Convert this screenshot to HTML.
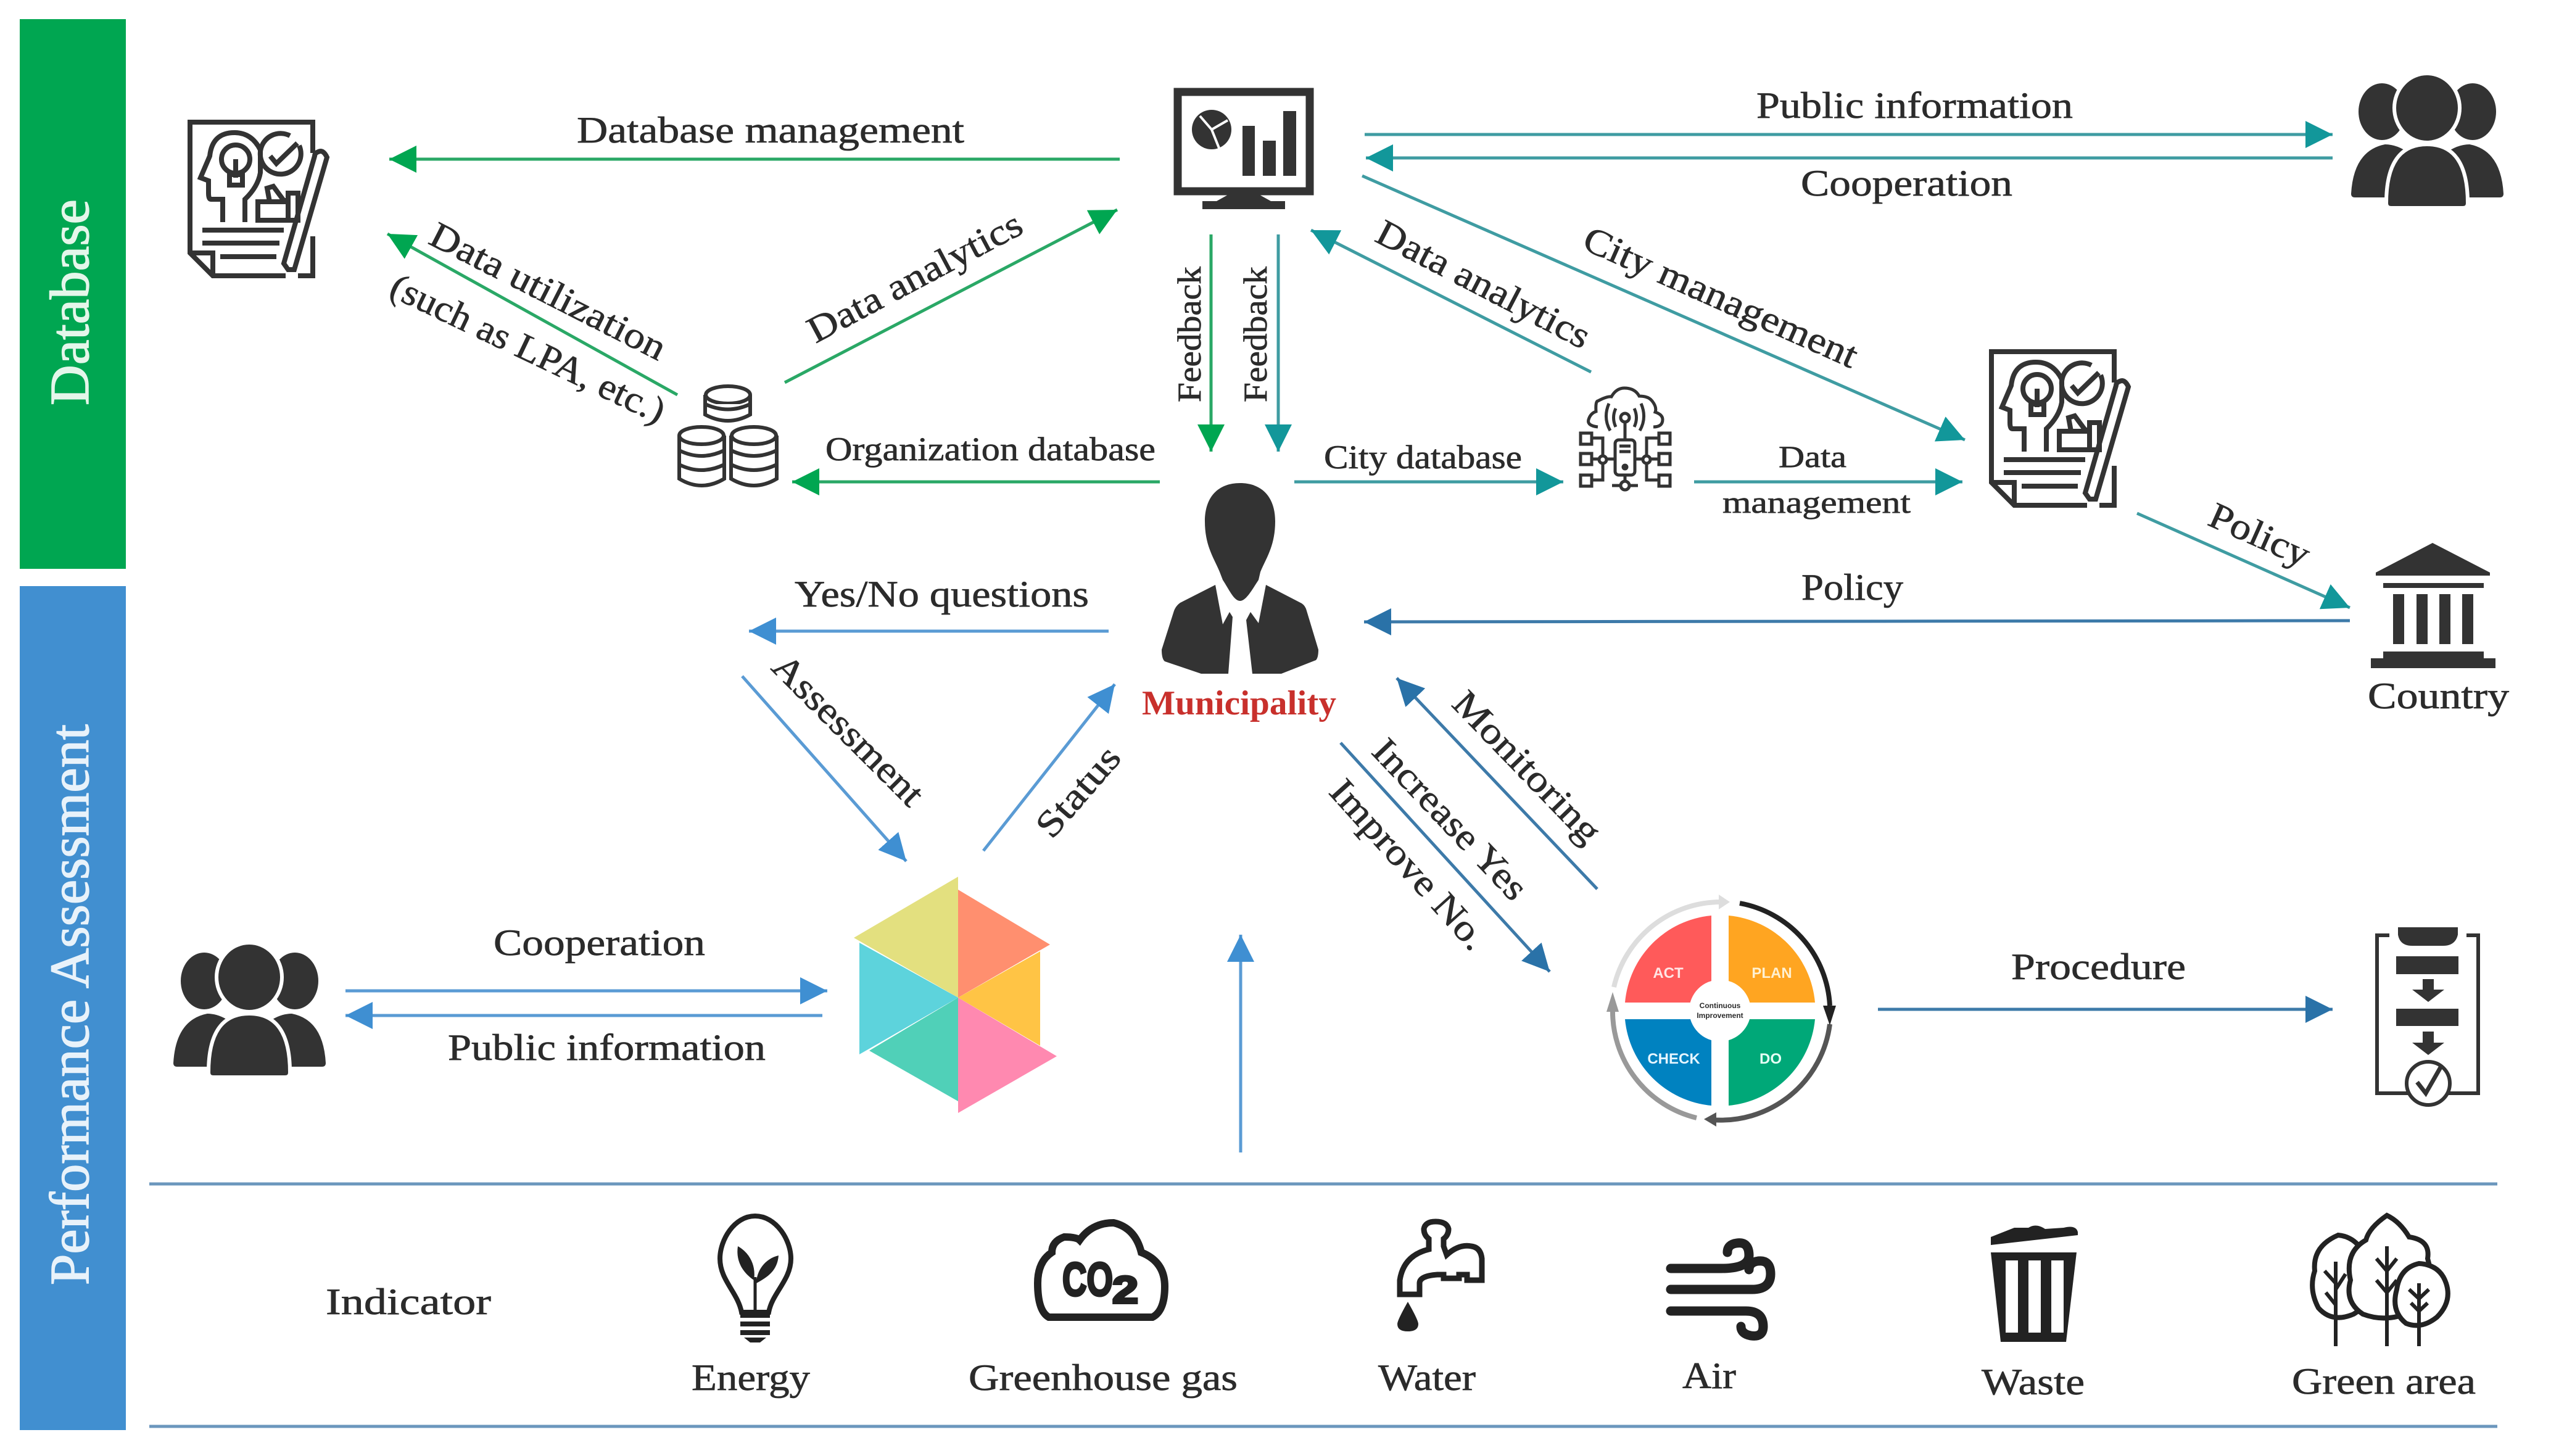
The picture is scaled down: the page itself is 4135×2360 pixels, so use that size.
<!DOCTYPE html>
<html><head><meta charset="utf-8"><style>
html,body{margin:0;padding:0;background:#fff}
svg{display:block}
text{font-family:"Liberation Serif",serif;fill:#2b2b2b;font-size:60px;stroke:#2b2b2b;stroke-width:.7px}
.s{font-size:54px}
.d{fill:#333}
</style></head><body>
<svg xmlns="http://www.w3.org/2000/svg" width="4135" height="2360" viewBox="0 0 4135 2360">
<defs>
<marker id="g" markerUnits="userSpaceOnUse" markerWidth="50" markerHeight="50" refX="44" refY="22" orient="auto"><path d="M0 0L44 22L0 44Z" fill="#00a651"/></marker>
<marker id="t" markerUnits="userSpaceOnUse" markerWidth="50" markerHeight="50" refX="44" refY="22" orient="auto"><path d="M0 0L44 22L0 44Z" fill="#12979a"/></marker>
<marker id="b" markerUnits="userSpaceOnUse" markerWidth="50" markerHeight="50" refX="44" refY="22" orient="auto"><path d="M0 0L44 22L0 44Z" fill="#3f8fd2"/></marker>
<marker id="k" markerUnits="userSpaceOnUse" markerWidth="50" markerHeight="50" refX="44" refY="22" orient="auto"><path d="M0 0L44 22L0 44Z" fill="#2a72a8"/></marker>
<g id="people">
<ellipse cx="50" cy="62" rx="38" ry="46" class="d"/><ellipse cx="197" cy="62" rx="38" ry="46" class="d"/>
<path d="M0 195Q4 125 55 115Q75 115 95 130V201H6Q0 201 0 195Z" class="d"/>
<path d="M247 195Q243 125 192 115Q172 115 152 130V201H241Q247 201 247 195Z" class="d"/>
<ellipse cx="123" cy="56" rx="53" ry="56" class="d" stroke="#fff" stroke-width="6"/>
<path d="M57 210Q57 115 123 115Q189 115 189 210Q189 218 181 218H65Q57 218 57 210Z" class="d" stroke="#fff" stroke-width="6"/>
</g>
<g id="doc" fill="none" stroke="#333" stroke-width="8">
<path d="M199 50V0H0V212L37 249H155M175 249H199V185"/>
<path d="M0 212H37V249"/>
<path d="M53 162V125H34Q30 125 30 115V95L17 90L32 55Q36 17 72 17Q100 17 114 45V82Q110 105 89 125V162"/>
<circle cx="74" cy="60" r="23"/><path d="M74 60V90"/><rect x="64" y="85" width="21" height="17"/>
<path d="M162 22A33 33 0 1 0 177 38"/><path d="M130 55L140 67L174 34"/>
<path d="M159 129H110V159H159M110 129H129L125 107L135 104L152 127H159"/>
<rect x="159" y="115" width="16" height="44"/>
<path d="M20 175H152M20 196H145M49 218H140"/>
<path d="M202 55L152 229L159 239H169L222 57Q216 44 208 48Q202 50 202 55Z"/>
</g>
</defs>
<rect width="4135" height="2360" fill="#fff"/>

<!-- side bars -->
<rect x="32" y="31" width="172" height="891" fill="#00a651"/>
<rect x="32" y="950" width="172" height="1368" fill="#418fd0"/>
<text transform="translate(143,657) rotate(-90)" textLength="334" lengthAdjust="spacingAndGlyphs" style="font-size:90px;fill:#e4f6ea;stroke:#e4f6ea;stroke-width:1.5px">Database</text>
<text transform="translate(143,2083) rotate(-90)" textLength="909" lengthAdjust="spacingAndGlyphs" style="font-size:90px;fill:#e8f2fa;stroke:#e8f2fa;stroke-width:1.5px">Performance Assessment</text>

<!-- connectors -->
<g fill="none" stroke-width="5">
<g stroke="#2aa866">
<line x1="1815" y1="258" x2="631" y2="258" marker-end="url(#g)"/>
<line x1="1098" y1="640" x2="628" y2="379" marker-end="url(#g)"/>
<line x1="1272" y1="620" x2="1811" y2="340" marker-end="url(#g)"/>
<line x1="1880" y1="781" x2="1284" y2="781" marker-end="url(#g)"/>
<line x1="1963" y1="380" x2="1963" y2="732" marker-end="url(#g)"/>
</g>
<g stroke="#3f9ca2">
<line x1="2072" y1="380" x2="2072" y2="732" marker-end="url(#t)"/>
<line x1="2212" y1="218" x2="3781" y2="218" marker-end="url(#t)"/>
<line x1="3781" y1="256" x2="2214" y2="256" marker-end="url(#t)"/>
<line x1="2208" y1="285" x2="3185" y2="713" marker-end="url(#t)"/>
<line x1="2579" y1="603" x2="2125" y2="373" marker-end="url(#t)"/>
<line x1="2098" y1="781" x2="2534" y2="781" marker-end="url(#t)"/>
<line x1="2746" y1="781" x2="3181" y2="781" marker-end="url(#t)"/>
<line x1="3464" y1="832" x2="3809" y2="985" marker-end="url(#t)"/>
</g>
<g stroke="#5a9bd4">
<line x1="1797" y1="1023" x2="1214" y2="1023" marker-end="url(#b)"/>
<line x1="1203" y1="1096" x2="1469" y2="1396" marker-end="url(#b)"/>
<line x1="1594" y1="1379" x2="1807" y2="1109" marker-end="url(#b)"/>
<line x1="560" y1="1606" x2="1341" y2="1606" marker-end="url(#b)"/>
<line x1="1333" y1="1646" x2="560" y2="1646" marker-end="url(#b)"/>
<line x1="2011" y1="1868" x2="2011" y2="1515" marker-end="url(#b)"/>
</g>
<g stroke="#3d7aa9">
<line x1="3809" y1="1006" x2="2211" y2="1008" marker-end="url(#k)"/>
<line x1="2589" y1="1441" x2="2264" y2="1099" marker-end="url(#k)"/>
<line x1="2173" y1="1204" x2="2512" y2="1575" marker-end="url(#k)"/>
<line x1="3044" y1="1636" x2="3781" y2="1636" marker-end="url(#k)"/>
</g>
<line x1="242" y1="1919" x2="4048" y2="1919" stroke="#6b97bd" stroke-width="5"/>
<line x1="242" y1="2312" x2="4048" y2="2312" stroke="#6b97bd" stroke-width="5"/>
</g>

<!-- labels -->
<text x="935" y="231" textLength="628" lengthAdjust="spacingAndGlyphs">Database management</text>
<text transform="translate(692,394) rotate(27)" textLength="421" lengthAdjust="spacingAndGlyphs">Data utilization</text>
<text transform="translate(628,478) rotate(25.5)" textLength="486" lengthAdjust="spacingAndGlyphs">(such as LPA, etc.)</text>
<text transform="translate(1322,557) rotate(-28)" textLength="385" lengthAdjust="spacingAndGlyphs">Data analytics</text>
<text x="1338" y="746" class="s" textLength="535" lengthAdjust="spacingAndGlyphs">Organization database</text>
<text transform="translate(1946,652) rotate(-90)" class="s" textLength="220" lengthAdjust="spacingAndGlyphs">Feedback</text>
<text transform="translate(2053,652) rotate(-90)" class="s" textLength="220" lengthAdjust="spacingAndGlyphs">Feedback</text>
<text x="2146" y="759" class="s" textLength="321" lengthAdjust="spacingAndGlyphs">City database</text>
<text x="2847" y="191" textLength="513" lengthAdjust="spacingAndGlyphs">Public information</text>
<text x="2919" y="317" textLength="343" lengthAdjust="spacingAndGlyphs">Cooperation</text>
<text transform="translate(2562,402) rotate(24)" textLength="480" lengthAdjust="spacingAndGlyphs">City management</text>
<text transform="translate(2226,390) rotate(27.5)" textLength="382" lengthAdjust="spacingAndGlyphs">Data analytics</text>
<text x="2883" y="757" textLength="110" lengthAdjust="spacingAndGlyphs" style="font-size:50px">Data</text>
<text x="2792" y="831" textLength="305" lengthAdjust="spacingAndGlyphs" style="font-size:50px">management</text>
<text transform="translate(3576,850) rotate(24)" textLength="172" lengthAdjust="spacingAndGlyphs">Policy</text>
<text x="2920" y="972" textLength="165" lengthAdjust="spacingAndGlyphs">Policy</text>
<text x="3838" y="1148" textLength="229" lengthAdjust="spacingAndGlyphs">Country</text>
<text x="1288" y="983" textLength="477" lengthAdjust="spacingAndGlyphs">Yes/No questions</text>
<text x="1851" y="1158" textLength="315" lengthAdjust="spacingAndGlyphs" style="font-size:56px;font-weight:bold;fill:#c8302c;stroke:none">Municipality</text>
<text transform="translate(1248,1084) rotate(45)" textLength="320" lengthAdjust="spacingAndGlyphs">Assessment</text>
<text transform="translate(1705,1362) rotate(-49)" textLength="175" lengthAdjust="spacingAndGlyphs">Status</text>
<text transform="translate(2351,1143) rotate(46)" textLength="317" lengthAdjust="spacingAndGlyphs">Monitoring</text>
<text transform="translate(2221,1220) rotate(46.5)" textLength="335" lengthAdjust="spacingAndGlyphs">Increase Yes</text>
<text transform="translate(2152,1285) rotate(48)" textLength="349" lengthAdjust="spacingAndGlyphs">Improve No.</text>
<text x="800" y="1548" textLength="343" lengthAdjust="spacingAndGlyphs">Cooperation</text>
<text x="726" y="1718" textLength="515" lengthAdjust="spacingAndGlyphs">Public information</text>
<text x="3260" y="1587" textLength="283" lengthAdjust="spacingAndGlyphs">Procedure</text>
<text x="528" y="2130" textLength="268" lengthAdjust="spacingAndGlyphs">Indicator</text>
<text x="1121" y="2253" textLength="192" lengthAdjust="spacingAndGlyphs">Energy</text>
<text x="1570" y="2253" textLength="436" lengthAdjust="spacingAndGlyphs">Greenhouse gas</text>
<text x="2234" y="2253" textLength="158" lengthAdjust="spacingAndGlyphs">Water</text>
<text x="2727" y="2250" textLength="87" lengthAdjust="spacingAndGlyphs">Air</text>
<text x="3212" y="2260" textLength="167" lengthAdjust="spacingAndGlyphs">Waste</text>
<text x="3715" y="2259" textLength="298" lengthAdjust="spacingAndGlyphs">Green area</text>

<!-- icons -->
<use href="#doc" x="308" y="198"/>
<use href="#doc" x="3228" y="570"/>
<use href="#people" x="3811" y="119"/>
<use href="#people" x="281" y="1528"/>

<!-- database -->
<g fill="#fff" stroke="#333" stroke-width="6">
<path d="M1143 640V672Q1180 692 1216 672V640"/><ellipse cx="1180" cy="640" rx="36" ry="14"/><path d="M1143 655Q1180 672 1216 655"/>
<path d="M1101 706V776Q1137 798 1174 776V706"/><ellipse cx="1137" cy="706" rx="36" ry="14"/><path d="M1101 730Q1137 748 1174 730M1101 753Q1137 771 1174 753" fill="none"/>
<path d="M1185 706V776Q1222 798 1259 776V706"/><ellipse cx="1222" cy="706" rx="36" ry="14"/><path d="M1185 730Q1222 748 1259 730M1185 753Q1222 771 1259 753" fill="none"/>
</g>

<!-- monitor -->
<rect x="1909" y="149" width="214" height="161" fill="#fff" stroke="#333" stroke-width="13"/>
<path class="d" d="M1990 316H2042L2060 326H2083V339H1949V326H1972Z"/>
<circle cx="1964" cy="210" r="32" class="d"/>
<path d="M1964 210L1990 195M1964 210L1976 240M1964 210L1945 188" stroke="#fff" stroke-width="4"/>
<rect x="2014" y="204" width="20" height="81" class="d"/><rect x="2047" y="228" width="21" height="57" class="d"/><rect x="2080" y="180" width="21" height="105" class="d"/>

<!-- person -->
<path class="d" d="M2010 783C2045 783 2067 805 2067 845C2067 885 2052 905 2043 927L2040 940C2030 955 2020 974 2010 974C2000 974 1992 955 1982 940L1977 927C1968 905 1953 885 1953 845C1953 805 1975 783 2010 783Z"/>
<path class="d" d="M1970 948L1913 977Q1906 982 1903 990L1883 1053Q1883 1068 1888 1072L1947 1092H1991L1998 1000L1993 992L1982 1012Z"/>
<path class="d" d="M2052 948L2110 978Q2116 982 2118 990L2137 1053Q2137 1066 2133 1070L2077 1092H2030L2020 1005L2027 992L2040 1010Z"/>

<!-- IoT -->
<g fill="none" stroke="#333" stroke-width="5">
<path d="M2590 692Q2572 690 2575 680Q2578 670 2587 667Q2586 650 2590 650Q2605 642 2612 643Q2620 629 2633 629Q2650 629 2657 642Q2672 642 2678 650Q2686 660 2683 668Q2695 672 2695 680Q2695 692 2680 692"/>
<path d="M2619 662Q2612 677 2619 692M2649 662Q2656 677 2649 692M2608 654Q2598 677 2610 698M2660 654Q2670 677 2658 698"/>
<circle cx="2634" cy="677" r="7"/>
<path d="M2634 684V713"/>
<rect x="2618" y="713" width="32" height="57" rx="6"/>
<path d="M2625 723H2643M2625 732H2643"/><circle cx="2634" cy="757" r="3" fill="#333"/>
<path d="M2634 770V780M2613 787H2627M2641 787H2655"/><circle cx="2634" cy="787" r="7"/>
<rect x="2562" y="702" width="18" height="18"/><rect x="2562" y="735" width="18" height="18"/><rect x="2562" y="770" width="18" height="18"/>
<rect x="2689" y="702" width="18" height="18"/><rect x="2689" y="735" width="18" height="18"/><rect x="2689" y="770" width="18" height="18"/>
<path d="M2580 710H2598V739M2580 778H2598V751M2580 744H2592M2604 744H2618M2689 710H2669V739M2689 778H2669V751M2689 744H2675M2663 744H2650"/>
<circle cx="2598" cy="745" r="6"/><circle cx="2669" cy="745" r="6"/>
</g>

<!-- bank -->
<path class="d" d="M3943 880L4036 928V933H3851V928Z"/>
<rect x="3863" y="945" width="163" height="8" class="d"/>
<rect x="3879" y="963" width="18" height="81" class="d"/><rect x="3917" y="963" width="18" height="81" class="d"/><rect x="3954" y="963" width="18" height="81" class="d"/><rect x="3991" y="963" width="18" height="81" class="d"/>
<path class="d" d="M3863 1056H4026V1067H4045V1083H3843V1067H3863Z"/>

<!-- hexagon -->
<polygon points="1553,1421 1384,1520 1553,1617" fill="#e3e07f"/>
<polygon points="1553,1442 1702,1531 1553,1617" fill="#ff8f6f"/>
<polygon points="1553,1617 1686,1542 1686,1695" fill="#ffc445"/>
<polygon points="1553,1617 1713,1712 1553,1804" fill="#ff89b0"/>
<polygon points="1553,1617 1409,1703 1553,1785" fill="#50d0b8"/>
<polygon points="1393,1528 1553,1617 1393,1709" fill="#5dd3dc"/>

<!-- PDCA -->
<path d="M2774 1625V1484A155 155 0 0 0 2634 1625Z" fill="#ff5a5a"/>
<path d="M2802 1625V1484A155 155 0 0 1 2942 1625Z" fill="#ffa521"/>
<path d="M2774 1652V1792A155 155 0 0 1 2634 1652Z" fill="#0082c0"/>
<path d="M2802 1652V1792A155 155 0 0 0 2942 1652Z" fill="#00a878"/>
<circle cx="2788" cy="1638" r="50" fill="#fff"/>
<text x="2704" y="1585" text-anchor="middle" style="font-family:'Liberation Sans',sans-serif;font-weight:bold;stroke:none;font-size:24px;fill:#ffe5e5">ACT</text>
<text x="2872" y="1585" text-anchor="middle" style="font-family:'Liberation Sans',sans-serif;font-weight:bold;stroke:none;font-size:24px;fill:#fff0d0">PLAN</text>
<text x="2713" y="1724" text-anchor="middle" style="font-family:'Liberation Sans',sans-serif;font-weight:bold;stroke:none;font-size:24px;fill:#e5f5ff">CHECK</text>
<text x="2870" y="1724" text-anchor="middle" style="font-family:'Liberation Sans',sans-serif;font-weight:bold;stroke:none;font-size:24px;fill:#e5fff5">DO</text>
<text x="2788" y="1634" text-anchor="middle" style="font-family:'Liberation Sans',sans-serif;stroke:none;font-size:12px;font-weight:bold">Continuous</text>
<text x="2788" y="1650" text-anchor="middle" style="font-family:'Liberation Sans',sans-serif;stroke:none;font-size:12px;font-weight:bold">Improvement</text>
<g fill="none" stroke-width="8">
<path d="M2820 1464A178 178 0 0 1 2966 1630" stroke="#222"/>
<path d="M2966 1660A178 178 0 0 1 2775 1815" stroke="#555"/>
<path d="M2750 1812A178 178 0 0 1 2614 1635" stroke="#999"/>
<path d="M2616 1600A178 178 0 0 1 2790 1462" stroke="#ddd"/>
</g>
<path d="M2955 1630H2976L2966 1662Z" fill="#222"/>
<path d="M2782 1803V1826L2762 1814Z" fill="#555"/>
<path d="M2604 1640H2624L2614 1608Z" fill="#999"/>
<path d="M2786 1450L2804 1462L2786 1474Z" fill="#ddd"/>

<!-- procedure -->
<path d="M3873 1516H3853V1772H3905M3968 1772H4017V1516H3998" fill="none" stroke="#333" stroke-width="6"/>
<path class="d" d="M3887 1503H3984V1515Q3980 1533 3960 1533H3910Q3890 1533 3887 1515Z"/>
<rect x="3884" y="1550" width="101" height="29" class="d"/>
<rect x="3884" y="1635" width="101" height="28" class="d"/>
<path class="d" d="M3927 1587H3945V1604H3962L3936 1624L3910 1604H3927Z"/>
<path class="d" d="M3927 1672H3945V1690H3962L3936 1710L3910 1690H3927Z"/>
<circle cx="3936" cy="1756" r="35" fill="#fff" stroke="#333" stroke-width="6"/>
<path d="M3918 1754L3932 1772L3956 1730" fill="none" stroke="#333" stroke-width="7"/>

<!-- bulb -->
<path d="M1224 1971C1258 1971 1282 2010 1282 2040C1282 2075 1252 2095 1246 2127H1202C1196 2095 1167 2075 1167 2040C1167 2010 1190 1971 1224 1971Z" fill="none" stroke="#222" stroke-width="8"/>
<path d="M1224 2127V2070" stroke="#222" stroke-width="5"/>
<path d="M1222 2075C1200 2060 1193 2040 1196 2020C1214 2030 1226 2050 1222 2075Z" fill="#222"/>
<path d="M1226 2080C1244 2070 1260 2060 1262 2035C1240 2040 1226 2060 1226 2080Z" fill="#222"/>
<path d="M1200 2127H1248V2136H1200ZM1200 2142H1248V2150H1200ZM1200 2156H1248V2164H1200ZM1206 2168H1242L1232 2176H1216Z" fill="#222"/>

<!-- CO2 -->
<path d="M1700 2135Q1682 2125 1682 2080Q1682 2045 1705 2030Q1705 2012 1725 2005Q1745 2005 1750 2010Q1770 1982 1805 1982Q1840 1990 1850 2030Q1888 2045 1888 2085Q1888 2125 1868 2135Z" fill="#fff" stroke="#222" stroke-width="12"/>
<text x="1722" y="2100" style="font-family:'Liberation Sans',sans-serif;font-weight:bold;font-size:76px;fill:#222;stroke:#222;stroke-width:4px" textLength="82" lengthAdjust="spacingAndGlyphs">CO</text>
<text x="1803" y="2112" style="font-family:'Liberation Sans',sans-serif;font-weight:bold;font-size:62px;fill:#222;stroke:#222;stroke-width:4px" textLength="42" lengthAdjust="spacingAndGlyphs">2</text>

<!-- faucet -->
<path d="M2269 2098H2301V2080Q2301 2068 2330 2066H2340V2072H2365V2066H2378V2075H2402V2040Q2400 2022 2385 2020Q2365 2016 2345 2034L2340 2020V2008Q2348 2002 2348 1992Q2345 1980 2327 1980Q2310 1980 2308 1992Q2308 2002 2316 2008V2025Q2275 2035 2269 2075Z" fill="#fff" stroke="#222" stroke-width="9"/>
<path d="M2282 2110Q2299 2140 2299 2146Q2299 2158 2282 2158Q2265 2158 2265 2146Q2265 2140 2282 2110Z" fill="#222"/>

<!-- air -->
<g fill="none" stroke="#222" stroke-width="15" stroke-linecap="round">
<path d="M2708 2056H2790Q2835 2056 2835 2035Q2835 2012 2815 2015Q2800 2017 2800 2030"/>
<path d="M2708 2090H2840Q2870 2090 2870 2065Q2870 2042 2850 2044Q2835 2046 2835 2058"/>
<path d="M2708 2125H2830Q2858 2125 2858 2150Q2858 2168 2838 2165Q2822 2162 2822 2150"/>
</g>

<!-- trash -->
<path d="M3227 2030H3366L3349 2175H3243Z" fill="#222"/>
<rect x="3251" y="2043" width="20" height="117" fill="#fff"/><rect x="3288" y="2043" width="20" height="117" fill="#fff"/><rect x="3325" y="2043" width="20" height="117" fill="#fff"/>
<path d="M3227 2018V2005L3265 1990H3288Q3300 1982 3315 1992L3345 1990Q3365 1985 3368 1997V2002Z" fill="#222"/>

<!-- trees -->
<g fill="#fff" stroke="#222" stroke-width="8">
<path d="M3790 2002Q3748 2020 3752 2060Q3742 2090 3758 2120Q3780 2145 3815 2130Q3850 2110 3840 2050Q3825 2005 3790 2002Z"/>
<path d="M3869 1970Q3840 1990 3835 2010Q3800 2030 3810 2075Q3800 2110 3830 2130Q3870 2145 3910 2125Q3950 2090 3935 2040Q3940 2010 3905 2005Q3890 1980 3869 1970Z"/>
<path d="M3921 2048Q3890 2055 3885 2090Q3875 2125 3900 2145Q3925 2155 3950 2135Q3975 2110 3965 2080Q3955 2050 3921 2048Z"/>
</g>
<path d="M3786 2045V2182M3786 2080L3768 2060M3786 2090L3802 2065M3786 2115L3770 2095M3869 2020V2182M3869 2060L3852 2040M3869 2060L3885 2040M3869 2095L3852 2075M3869 2095L3885 2075M3921 2080V2182M3921 2105L3905 2090M3921 2105L3937 2090M3921 2125L3908 2112M3921 2125L3935 2112" fill="none" stroke="#222" stroke-width="6"/>
</svg>
</body></html>
